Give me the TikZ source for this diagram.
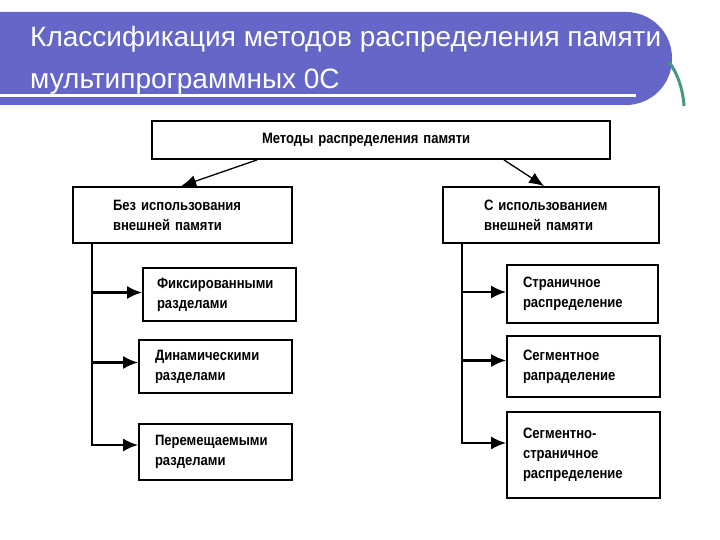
\documentclass[tikz,border=0pt]{standalone}
\usepackage{fontspec}
\setmainfont{Liberation Sans}
\newfontfamily\boxfont[FakeStretch=0.87]{Liberation Sans}
\usetikzlibrary{arrows.meta}
\definecolor{banner}{RGB}{100,102,200}
\definecolor{arcgreen}{RGB}{72,150,132}

\begin{document}
\begin{tikzpicture}[x=1pt, y=-1pt,
    box/.style = {draw, line width=1.7pt, align=left, inner sep=0pt,
        font=\boxfont\bfseries\fontsize{15}{20}\selectfont},
    arr/.style = {line width=1.3pt, -{Latex[length=15pt,width=12pt]}},
    branch/.style = {line width=2.4pt, -{Latex[length=15pt,width=13pt]}}]

\useasboundingbox (0,0) rectangle (720,540);

% Title banner
\fill[banner, rounded corners=46pt] (-60,12) rectangle (672,105);
\draw[white, line width=3pt] (0,96) -- (636,96);
\draw[arcgreen, line width=3pt] (669,62) .. controls (678,74) and (683,90) .. (684,106);

% Title
\node[anchor=base west, inner sep=0pt, text=white, font=\fontsize{28}{40}\selectfont] (title1) at (30,47)
    {Классификация методов распределения памяти};
\node[anchor=base west, inner sep=0pt, text=white, font=\fontsize{28}{40}\selectfont] (title2) at (30,89)
    {мультипрограммных 0С};

% Top box
\node[box, minimum width=458pt, minimum height=38pt, text width=238pt] (M) at (381,140)
    {Методы распределения памяти};

% Without external memory
\node[box, minimum width=219pt, minimum height=56pt, text width=139pt] (L) at (182.5,215)
    {Без использования\\внешней памяти};

% With external memory
\node[box, minimum width=216pt, minimum height=56pt, text width=134pt] (R) at (551,215)
    {С использованием\\внешней памяти};

% Left branch
\node[box, minimum width=153pt, minimum height=53pt, text width=125pt] (L1) at (219.5,294.5)
    {Фиксированными\\разделами};
\node[box, minimum width=153pt, minimum height=53pt, text width=121pt] (L2) at (215.5,366.5)
    {Динамическими\\разделами};
\node[box, minimum width=153pt, minimum height=56pt, text width=121pt] (L3) at (215.5,452)
    {Перемещаемыми\\разделами};

% Right branch
\node[box, minimum width=151pt, minimum height=58pt, text width=119pt] (R1) at (582.5,294)
    {Страничное\\распределение};
\node[box, minimum width=153pt, minimum height=61pt, text width=121pt] (R2) at (583.5,366.5)
    {Сегментное\\рапраделение};
\node[box, minimum width=153pt, minimum height=86pt, text width=121pt] (R3) at (583.5,455)
    {Сегментно-\\страничное\\распределение};

% Arrows from top box
\draw[arr] ([xshift=106pt]M.south west) -- ([xshift=109pt]L.north west);
\draw[arr] ([xshift=-107pt]M.south east) -- ([xshift=102pt]R.north west);

% Trunks
\draw[branch] ([xshift=20pt]L.south west) |- ([yshift=2pt]L1.west);
\draw[branch] ([xshift=20pt]L.south west) |- ([yshift=4pt]L2.west);
\draw[branch] ([xshift=20pt]L.south west) |- ([yshift=7pt]L3.west);
\draw[branch] ([xshift=20pt]R.south west) |- ([yshift=2pt]R1.west);
\draw[branch] ([xshift=20pt]R.south west) |- ([yshift=6pt]R2.west);
\draw[branch] ([xshift=20pt]R.south west) |- ([yshift=12pt]R3.west);
\end{tikzpicture}
\end{document}
